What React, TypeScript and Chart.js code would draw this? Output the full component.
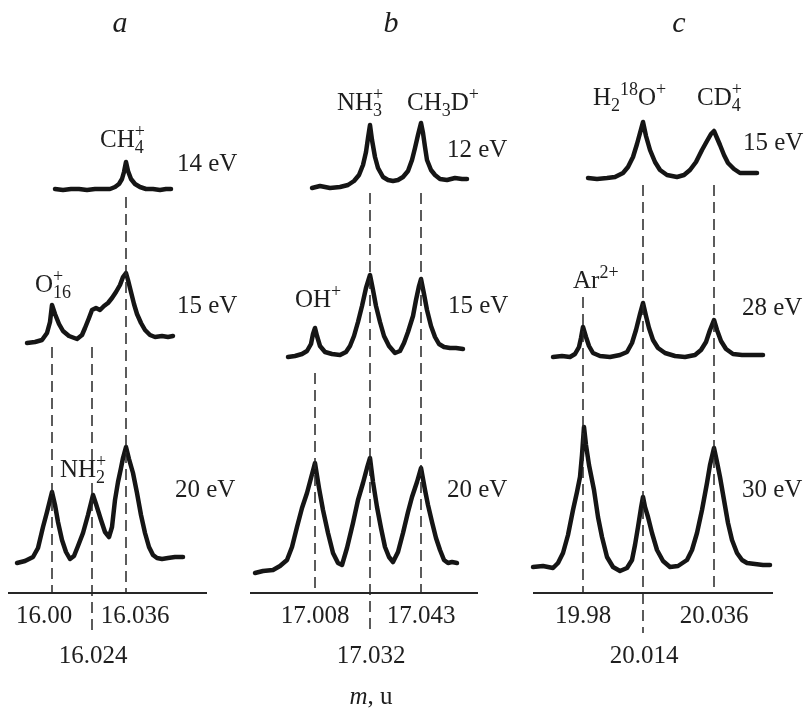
import React, { useEffect, useRef } from 'react';
import { Chart, registerables } from 'chart.js';

Chart.register(...registerables);

type P = [number, number];

// ---------- Panel a (x: channel, y: signal) ----------
const aPeakX = [44, 84, 118];
const aTickLabels = ['16.00', '16.024', '16.036'];
const aGuideTop = [246, 246, 396];
const aGuideBottom = [0, -40, 0];
const a14eV: P[] = [[47,404],[55,403],[63,404],[71,404],[79,403],[87,404],[95,404],[102,404],[107,406],[111,409],[114,414],[116,421],[118,431],[120,422],[123,414],[127,409],[132,406],[138,404],[145,404],[152,403],[158,404],[163,404]];
const a15eV: P[] = [[19,250],[27,251],[34,253],[39,260],[42,271],[44,288],[47,279],[51,269],[55,262],[61,257],[69,254],[74,258],[77,265],[81,275],[84,283],[88,285],[92,283],[96,287],[100,290],[104,295],[108,301],[112,308],[115,316],[118,320],[120,313],[123,301],[126,289],[129,279],[133,270],[137,263],[142,258],[147,256],[154,257],[160,256],[165,257]];
const a20eV: P[] = [[9,30],[17,32],[25,36],[30,45],[35,66],[39,81],[42,93],[44,101],[47,88],[50,71],[54,53],[58,41],[62,34],[66,37],[70,47],[75,60],[80,78],[83,90],[85,98],[88,89],[93,73],[97,61],[101,56],[104,66],[107,93],[110,111],[113,125],[115,135],[118,146],[121,134],[125,120],[129,100],[133,78],[137,60],[141,46],[145,38],[149,35],[154,34],[160,35],[167,36],[175,36]];

// ---------- Panel b ----------
const bPeakX = [65, 120, 171];
const bTickLabels = ['17.008', '17.032', '17.043'];
const bGuideTop = [220, 400, 400];
const bGuideBottom = [0, -40, 0];
const b12eV: P[] = [[62,405],[70,407],[80,405],[90,406],[98,408],[104,412],[109,418],[113,428],[116,441],[118,455],[120,468],[122,453],[125,436],[128,425],[133,416],[138,413],[143,412],[148,413],[153,416],[158,422],[162,433],[165,445],[168,458],[171,470],[173,460],[175,446],[177,433],[181,423],[185,418],[190,414],[197,413],[205,415],[212,414],[217,414]];
const b15eV: P[] = [[38,236],[45,237],[52,239],[57,242],[61,249],[63,259],[65,265],[67,257],[70,247],[75,241],[82,239],[90,238],[96,241],[100,247],[104,257],[108,271],[112,287],[116,305],[120,318],[123,303],[126,287],[130,271],[134,257],[139,247],[145,240],[150,242],[154,250],[158,261],[163,277],[166,293],[169,307],[171,314],[174,299],[177,283],[181,267],[185,256],[189,249],[194,246],[200,245],[206,245],[213,244]];
const b20eV: P[] = [[5,20],[13,22],[23,23],[30,27],[37,33],[42,46],[47,66],[52,85],[57,100],[61,115],[65,130],[69,105],[73,83],[78,60],[83,40],[88,30],[92,28],[97,45],[103,70],[108,93],[113,110],[117,125],[120,135],[123,111],[127,86],[131,65],[135,46],[139,36],[143,31],[148,41],[153,60],[158,81],[162,96],[167,111],[171,125],[175,103],[178,88],[182,71],[186,55],[190,43],[194,33],[198,30],[202,31],[207,30]];

// ---------- Panel c ----------
const cPeakX = [50, 110, 181];
const cTickLabels = ['19.98', '20.014', '20.036'];
const cGuideTop = [296, 408, 408];
const cGuideBottom = [0, -40, 0];
const c15eV: P[] = [[55,415],[64,414],[74,415],[82,416],[90,420],[95,426],[100,436],[104,449],[107,460],[110,471],[113,457],[117,443],[122,431],[127,423],[134,418],[144,416],[151,418],[157,423],[163,431],[169,443],[174,452],[178,459],[181,462],[184,455],[187,448],[191,438],[195,430],[201,424],[207,420],[215,420],[224,420]];
const c28eV: P[] = [[20,236],[29,237],[37,236],[42,239],[46,246],[48,255],[50,266],[53,256],[56,247],[60,240],[67,237],[77,236],[87,238],[94,241],[99,250],[103,263],[107,279],[110,290],[113,277],[116,265],[120,253],[125,245],[132,240],[142,237],[152,236],[162,238],[168,243],[173,251],[177,263],[181,273],[184,263],[188,252],[193,244],[200,239],[209,238],[219,238],[230,238]];
const c30eV: P[] = [[0,26],[10,27],[20,25],[25,30],[30,40],[35,58],[40,83],[44,101],[47,116],[49,138],[51,166],[53,148],[56,128],[61,103],[65,76],[69,56],[74,36],[80,26],[87,22],[94,25],[99,33],[102,48],[105,66],[108,85],[110,96],[112,86],[115,76],[119,60],[124,43],[130,32],[137,26],[145,27],[154,33],[159,43],[164,60],[169,83],[174,110],[177,128],[181,145],[184,131],[187,116],[191,93],[195,70],[199,53],[204,40],[209,33],[214,30],[222,29],[230,28],[237,28]];

// ---------- text ----------
type Seg = [string, string]; // kind: n normal, i italic, b sub, p sup, s sup stacked over previous
type Note = { parts: Seg[]; x: number; y: number; align: 'left' | 'center'; size?: number };

const FONT = '"Liberation Serif", "Times New Roman", serif';
const INK = '#1e1e1e';

function drawRich(ctx: CanvasRenderingContext2D, parts: Seg[], x: number, y: number, align: string, size: number) {
  const small = Math.round(size * 0.7);
  const fontOf = (k: string) =>
    k === 'i' ? `italic ${size}px ${FONT}` : k === 'n' ? `${size}px ${FONT}` : `${small}px ${FONT}`;
  const shiftOf = (k: string) => (k === 'b' ? size * 0.25 : k === 'p' || k === 's' ? -size * 0.4 : 0);
  const placed: { t: string; k: string; x: number }[] = [];
  let cx = 0;
  let prevStart = 0;
  for (const [t, k] of parts) {
    ctx.font = fontOf(k);
    const w = ctx.measureText(t).width;
    if (k === 's') {
      placed.push({ t, k, x: prevStart });
      cx = Math.max(cx, prevStart + w);
    } else {
      placed.push({ t, k, x: cx });
      prevStart = cx;
      cx += w;
    }
  }
  const x0 = align === 'center' ? x - cx / 2 : x;
  ctx.fillStyle = INK;
  ctx.textAlign = 'left';
  ctx.textBaseline = 'alphabetic';
  for (const p of placed) {
    ctx.font = fontOf(p.k);
    ctx.fillText(p.t, x0 + p.x, y + shiftOf(p.k));
  }
}

type Panel = {
  left: number;
  width: number;
  padLeft: number;
  padRight: number;
  xMax: number;
  peaks: number[];
  tickLabels: string[];
  tickRows: number[];
  tickShift: number[];
  guideTop: number[];
  guideBottom: number[];
  traces: P[][];
  notes: Note[];
};

const TITLE = 30;

const panels: Panel[] = [
  {
    left: 0, width: 245, padLeft: 8, padRight: 38, xMax: 199,
    peaks: aPeakX, tickLabels: aTickLabels, tickRows: [0, 1, 0], tickShift: [-8, 1, 9],
    guideTop: aGuideTop, guideBottom: aGuideBottom, traces: [a14eV, a15eV, a20eV],
    notes: [
      { parts: [['a', 'i']], x: 112, y: 561, align: 'center', size: TITLE },
      { parts: [['CH', 'n'], ['4', 'b'], ['+', 's']], x: 92, y: 446, align: 'left' },
      { parts: [['14 eV', 'n']], x: 169, y: 422, align: 'left' },
      { parts: [['O', 'n'], ['16', 'b'], ['+', 's']], x: 27, y: 301, align: 'left' },
      { parts: [['15 eV', 'n']], x: 169, y: 280, align: 'left' },
      { parts: [['NH', 'n'], ['2', 'b'], ['+', 's']], x: 52, y: 116, align: 'left' },
      { parts: [['20 eV', 'n']], x: 167, y: 96, align: 'left' },
    ],
  },
  {
    left: 245, width: 285, padLeft: 5, padRight: 52, xMax: 228,
    peaks: bPeakX, tickLabels: bTickLabels, tickRows: [0, 1, 0], tickShift: [0, 1, 0],
    guideTop: bGuideTop, guideBottom: bGuideBottom, traces: [b12eV, b15eV, b20eV],
    notes: [
      { parts: [['b', 'i']], x: 141, y: 561, align: 'center', size: TITLE },
      { parts: [['NH', 'n'], ['3', 'b'], ['+', 's']], x: 87, y: 483, align: 'left' },
      { parts: [['CH', 'n'], ['3', 'b'], ['D', 'n'], ['+', 'p']], x: 157, y: 483, align: 'left' },
      { parts: [['12 eV', 'n']], x: 197, y: 436, align: 'left' },
      { parts: [['OH', 'n'], ['+', 'p']], x: 45, y: 286, align: 'left' },
      { parts: [['15 eV', 'n']], x: 198, y: 280, align: 'left' },
      { parts: [['20 eV', 'n']], x: 197, y: 96, align: 'left' },
      { parts: [['m', 'i'], [', u', 'n']], x: 121, y: -111, align: 'center' },
    ],
  },
  {
    left: 530, width: 279, padLeft: 3, padRight: 36, xMax: 240,
    peaks: cPeakX, tickLabels: cTickLabels, tickRows: [0, 1, 0], tickShift: [0, 1, 0],
    guideTop: cGuideTop, guideBottom: cGuideBottom, traces: [c15eV, c28eV, c30eV],
    notes: [
      { parts: [['c', 'i']], x: 146, y: 561, align: 'center', size: TITLE },
      { parts: [['H', 'n'], ['2', 'b'], ['18', 'p'], ['O', 'n'], ['+', 'p']], x: 60, y: 488, align: 'left' },
      { parts: [['CD', 'n'], ['4', 'b'], ['+', 's']], x: 164, y: 488, align: 'left' },
      { parts: [['15 eV', 'n']], x: 210, y: 443, align: 'left' },
      { parts: [['Ar', 'n'], ['2+', 'p']], x: 40, y: 305, align: 'left' },
      { parts: [['28 eV', 'n']], x: 209, y: 278, align: 'left' },
      { parts: [['30 eV', 'n']], x: 209, y: 96, align: 'left' },
    ],
  },
];

const H = 711;
const PAD_TOP = 100;
const PAD_BOTTOM = 118;
const Y_MAX = H - PAD_TOP - PAD_BOTTOM;

function PanelChart({ panel }: { panel: Panel }) {
  const ref = useRef<HTMLCanvasElement | null>(null);
  useEffect(() => {
    const canvas = ref.current;
    if (!canvas) return;
    const guides = panel.peaks.map((x, i) => ({
      data: [{ x, y: panel.guideTop[i] }, { x, y: panel.guideBottom[i] }],
      borderColor: '#262626',
      borderWidth: 1.5,
      borderDash: [11, 6],
      pointRadius: 0,
      clip: false as any,
    }));
    const axis = {
      data: [{ x: 0, y: 0 }, { x: panel.xMax, y: 0 }],
      borderColor: '#262626',
      borderWidth: 2,
      pointRadius: 0,
      clip: false as any,
    };
    const traces = panel.traces.map((t) => ({
      data: t.map(([x, y]) => ({ x, y })),
      borderColor: '#151515',
      borderWidth: 4.5,
      borderJoinStyle: 'round' as const,
      borderCapStyle: 'round' as const,
      pointRadius: 0,
      tension: 0,
      clip: false as any,
    }));
    const labels = {
      id: 'labels' + panel.left,
      afterDatasetsDraw(chart: any) {
        const ctx = chart.ctx as CanvasRenderingContext2D;
        const xs = chart.scales.x;
        const ys = chart.scales.y;
        ctx.save();
        for (const n of panel.notes) {
          drawRich(ctx, n.parts, xs.getPixelForValue(n.x), ys.getPixelForValue(n.y), n.align, n.size || 25);
        }
        const base = ys.getPixelForValue(0);
        panel.peaks.forEach((v, i) => {
          const px = xs.getPixelForValue(v) + panel.tickShift[i];
          const py = base + (panel.tickRows[i] === 0 ? 30 : 70);
          drawRich(ctx, [[panel.tickLabels[i], 'n']], px, py, 'center', 25);
        });
        ctx.restore();
      },
    };
    const chart = new Chart(canvas, {
      type: 'line',
      data: { datasets: [...guides, axis, ...traces] as any },
      options: {
        responsive: false,
        animation: false,
        events: [],
        layout: { padding: { left: panel.padLeft, right: panel.padRight, top: PAD_TOP, bottom: PAD_BOTTOM } },
        scales: {
          x: { type: 'linear', min: 0, max: panel.xMax, display: false },
          y: { type: 'linear', min: 0, max: Y_MAX, display: false },
        },
        plugins: { legend: { display: false }, tooltip: { enabled: false }, title: { display: false } },
      },
      plugins: [labels],
    });
    return () => chart.destroy();
  }, [panel]);
  return (
    <canvas
      ref={ref}
      width={panel.width}
      height={H}
      style={{ position: 'absolute', left: panel.left, top: 0, width: panel.width, height: H }}
    />
  );
}

export default function App() {
  return (
    <div style={{ position: 'absolute', left: 0, top: 0, width: 809, height: H, background: '#fff', overflow: 'hidden' }}>
      {panels.map((p) => (
        <PanelChart key={p.left} panel={p} />
      ))}
    </div>
  );
}
